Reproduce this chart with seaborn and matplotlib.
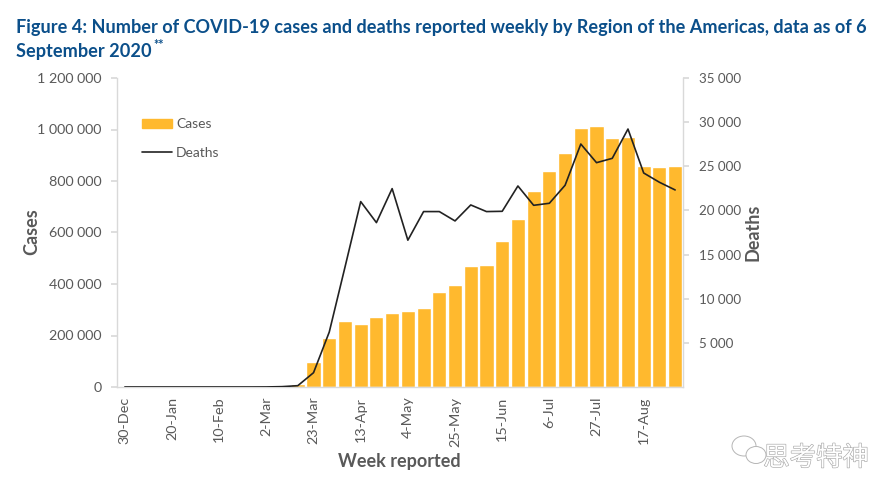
import matplotlib
matplotlib.use("Agg")
import matplotlib.pyplot as plt
import matplotlib.patheffects as pe
from matplotlib.patches import Patch, Ellipse
from matplotlib.lines import Line2D
import numpy as np
import pandas as pd
import seaborn as sns

weeks = ["30-Dec", "6-Jan", "13-Jan", "20-Jan", "27-Jan", "3-Feb", "10-Feb", "17-Feb", "24-Feb",
         "2-Mar", "9-Mar", "16-Mar", "23-Mar", "30-Mar", "6-Apr", "13-Apr", "20-Apr", "27-Apr",
         "4-May", "11-May", "18-May", "25-May", "1-Jun", "8-Jun", "15-Jun", "22-Jun", "29-Jun",
         "6-Jul", "13-Jul", "20-Jul", "27-Jul", "3-Aug", "10-Aug", "17-Aug", "24-Aug", "31-Aug"]
cases = [0, 0, 0, 0, 0, 0, 0, 0, 0, 100, 2000, 12000, 97000, 192000, 256000, 246000, 270000, 286000,
         294000, 305000, 370000, 397000, 471000, 475000, 566000, 651000, 762000, 840000, 910000,
         1007000, 1015000, 968000, 971000, 859000, 853000, 859000]
deaths = [0, 0, 0, 0, 0, 0, 0, 0, 0, 5, 40, 150, 1620, 6220, 13570, 21000, 18620, 22470, 16630,
          19870, 19870, 18810, 20620, 19870, 19900, 22770, 20580, 20810, 22850, 27520, 25410,
          25900, 29220, 24240, 23190, 22320]
case_ticks = [0, 200000, 400000, 600000, 800000, 1000000, 1200000]
death_ticks = [5000, 10000, 15000, 20000, 25000, 30000, 35000]

df = pd.DataFrame({"week": weeks, "cases": cases, "deaths": deaths})
df["pos"] = np.arange(len(df))

GREY = "#595959"
BLUE = "#0B4F8A"
SPINE = "#D9D9D9"
AMBER = "#FFB92E"

sns.set_theme(style="white")
plt.rcParams["font.family"] = ["Lato", "Noto Sans CJK SC", "DejaVu Sans"]


def spaced(v):
    return f"{v:,}".replace(",", " ")


W, H = 888, 493
fig = plt.figure(figsize=(W / 100, H / 100), dpi=100)
ax = fig.add_axes([117 / W, 1 - 387 / H, 566 / W, 309 / H])

sns.barplot(data=df, x="week", y="cases", color=AMBER, saturation=1, width=0.9, ax=ax)
ax.set_xlim(-0.5, len(weeks) - 0.5)
ax.set_ylim(0, 1200000)
ax.set_yticks(case_ticks)
ax.set_yticklabels([spaced(v) for v in case_ticks])
ax.set_xticks(df["pos"][::3])
ax.set_xticklabels(df["week"][::3], rotation=90)
ax.set_xlabel("")
ax.set_ylabel("")

ax2 = ax.twinx()
sns.lineplot(data=df, x="pos", y="deaths", color="#222222", linewidth=1.2, ax=ax2)
ax2.set_ylim(0, 35000)
ax2.set_yticks(death_ticks)
ax2.set_yticklabels([spaced(v) for v in death_ticks])
ax2.set_ylabel("")

for a in (ax, ax2):
    a.spines["top"].set_visible(False)
    for s in ("left", "right", "bottom"):
        a.spines[s].set_color(SPINE)
        a.spines[s].set_linewidth(1.0)
ax.spines["right"].set_visible(False)
ax2.spines["left"].set_visible(False)
ax2.spines["bottom"].set_visible(False)

ax.tick_params(axis="y", left=True, length=4, color=SPINE, labelsize=10.3, labelcolor=GREY, pad=7)
ax.tick_params(axis="x", bottom=False, labelsize=10.4, labelcolor=GREY, pad=1)
ax2.tick_params(axis="y", right=True, length=4, color=SPINE, labelsize=9.6, labelcolor=GREY, pad=7.5)

handles = [Patch(color=AMBER), Line2D([0], [0], color="#222222", linewidth=1.2)]
ax.legend(handles, ["Cases", "Deaths"], loc="upper left", bbox_to_anchor=(0.044, 0.87), frameon=False,
          fontsize=10, labelcolor=GREY, handlelength=2.15, handleheight=0.6, handletextpad=0.3,
          labelspacing=1.2, borderpad=0, borderaxespad=0)

fig.text(16 / W, 1 - 27 / H, "Figure 4: Number of COVID-19 cases and deaths reported weekly by Region of the Americas, data as of 6",
         color=BLUE, fontsize=13.05, fontweight="bold", va="center")
fig.text(16 / W, 1 - 51 / H, "September 2020", color=BLUE, fontsize=13.05, fontweight="bold", va="center")
fig.text(153 / W, 1 - 45 / H, "**", color=BLUE, fontsize=9, fontweight="bold", va="center")
fig.text(32 / W, 1 - 232 / H, "Cases", color=GREY, fontsize=13, fontweight="bold", rotation=90, ha="center", va="center")
fig.text(753 / W, 1 - 232 / H, "Deaths", color=GREY, fontsize=13, fontweight="bold", rotation=90, ha="center", va="center")
fig.text(399 / W, 1 - 462 / H, "Week reported", color=GREY, fontsize=13, fontweight="bold", ha="center", va="center")

# faint account mark, bottom right
fig.text(816 / W, 1 - 458 / H, "思考特神", color="white", fontsize=19, ha="center", va="center",
         path_effects=[pe.withStroke(linewidth=0.9, foreground="#A8A8A8")])
for cx, cy, bw, bh in [(744, 446, 24, 20), (756, 455, 20, 17)]:
    fig.add_artist(Ellipse((cx / W, 1 - cy / H), bw / W, bh / H, transform=fig.transFigure,
                           facecolor="white", edgecolor="#B5B5B5", linewidth=0.7))

fig.savefig("out.png", dpi=100)
